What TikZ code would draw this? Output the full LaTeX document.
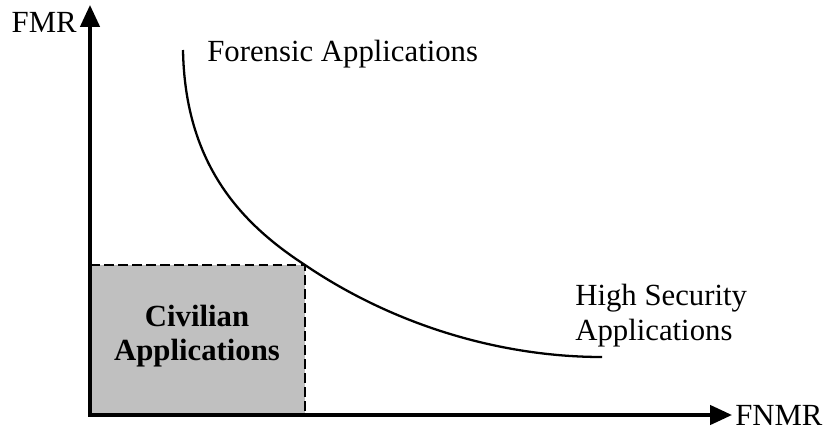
\documentclass[tikz,border=0pt]{standalone}
\usepackage{fontspec}
\setmainfont{Liberation Serif}
\usetikzlibrary{arrows.meta}

\begin{document}
\begin{tikzpicture}[x=0.02cm, y=-0.02cm,
    axis/.style={line width=2pt,
      arrows={Triangle[length=12.5pt, width=11pt]-Triangle[length=12.5pt, width=11pt]}},
    border/.style={line width=1.4pt, dash pattern=on 5.5pt off 2.5pt},
    every node/.style={font=\fontsize{17.5}{20}\selectfont, inner sep=0pt}]
  \useasboundingbox (0, 0) rectangle (825, 430);

  % Civilian region
  \coordinate (origin) at (90, 415);
  \coordinate (corner) at (305, 265);
  \fill [fill={rgb,255:red,192;green,192;blue,192}] (origin) rectangle (corner);
  \draw [border] (origin |- corner) -- (corner) -- (corner |- origin);
  \node [anchor=north, align=center, font=\fontsize{17.5}{19.5}\selectfont\bfseries]
        (civil) at (197, 305) {Civilian\\Applications};

  % Axes
  \coordinate (ytip) at (90, 5);
  \coordinate (xtip) at (732, 415);
  \draw [axis] (ytip) -- (origin) -- (xtip);
  \node [anchor=base east] (fmr) at (77, 32) {FMR};
  \node [anchor=west] (fnmr) at (735, 415) {FNMR};

  % Trade-off curve
  \draw [line width=1.3pt] (183, 50) .. controls (185, 165) and (242, 224) .. (corner)
        .. controls (395, 326) and (502, 357) .. (602, 357);

  \node [anchor=base west] (forensic) at (207, 61) {Forensic Applications};
  \node [anchor=north west, align=left] (highsec) at (575, 284)
        {High Security\\Applications};
\end{tikzpicture}
\end{document}
